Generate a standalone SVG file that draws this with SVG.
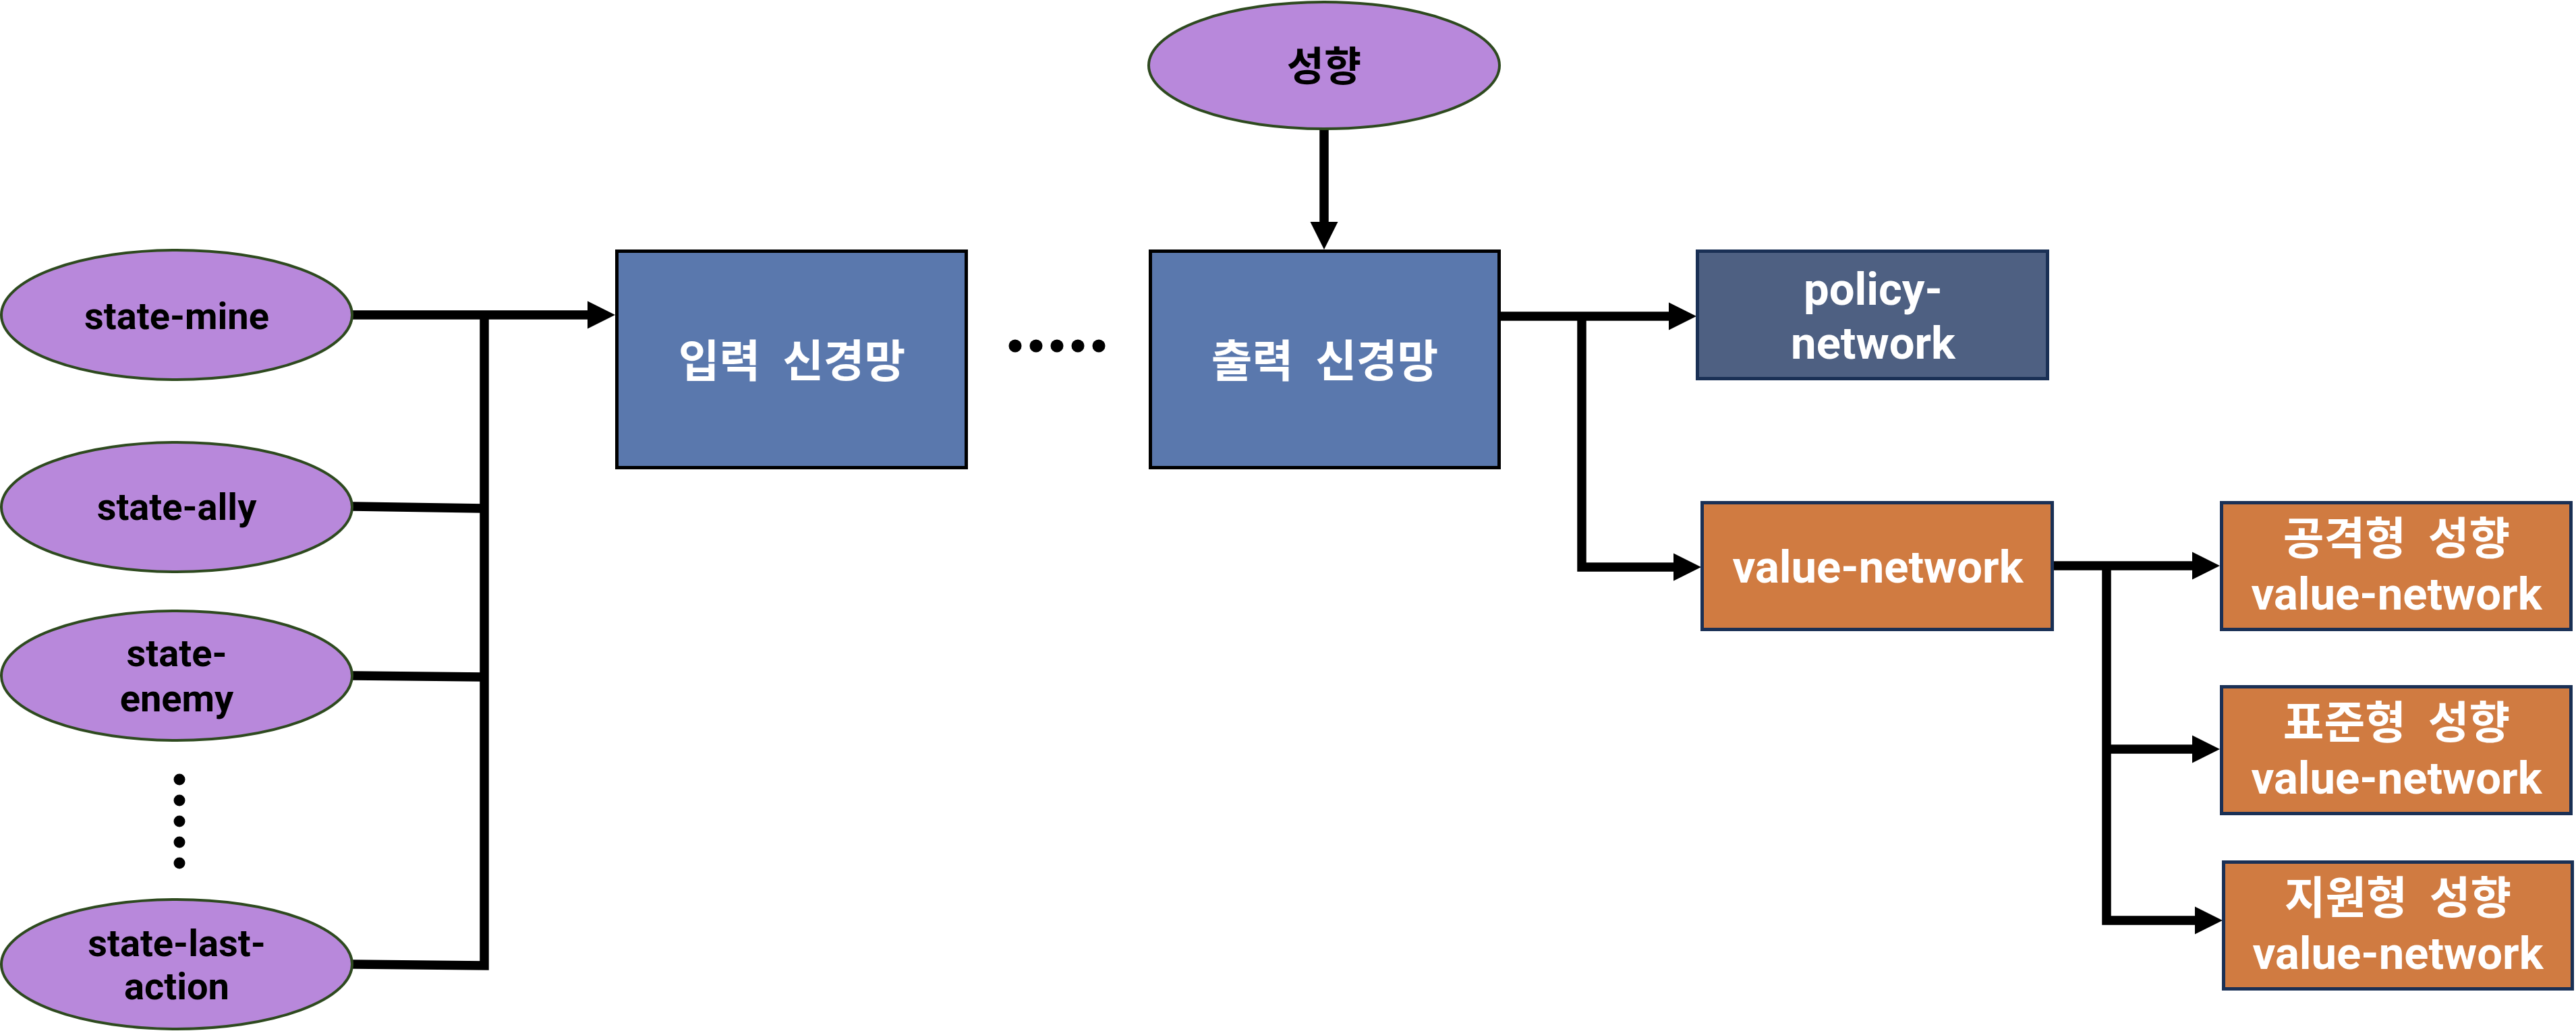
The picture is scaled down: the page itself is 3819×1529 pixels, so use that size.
<svg xmlns="http://www.w3.org/2000/svg" width="3819" height="1529" viewBox="0 0 3819 1529">
<style>
.ell{fill:#B888DB;stroke:#2E4A1F;stroke-width:4}
.blue{fill:#5A78AD;stroke:#000;stroke-width:5}
.pol{fill:#4E6082;stroke:#1A3055;stroke-width:5}
.org{fill:#D07B41;stroke:#1A3055;stroke-width:5}
.t{font-weight:bold;text-anchor:middle}
.lb{font-family:Roboto,"Liberation Sans",sans-serif;font-size:56px;fill:#000}
.kl{font-family:"Noto Sans CJK KR",sans-serif;font-size:60px;fill:#000}
.ko{font-family:"Noto Sans CJK KR",sans-serif;font-size:66px;fill:#fff;word-spacing:18px}
.en{font-family:Roboto,"Liberation Sans",sans-serif;font-size:67px;fill:#fff}
.con{fill:none;stroke:#000;stroke-width:13.5;stroke-linejoin:miter;stroke-linecap:butt}
.dot{fill:#000}
</style>
<defs>
<marker id="ah" markerUnits="userSpaceOnUse" markerWidth="44" markerHeight="44" viewBox="0 -22 44 44" refX="1" refY="0" orient="auto" overflow="visible">
<path d="M0,-20.5 L41,0 L0,20.5 Z" fill="#000"/>
</marker>
</defs>
<rect width="3819" height="1529" fill="#fff"/>
<g id="connectors">
<path class="con" d="M523,467 L872,467" marker-end="url(#ah)"/>
<path class="con" d="M523,751 L718,754"/>
<path class="con" d="M523,1002 L718,1004"/>
<path class="con" d="M523,1430 L718,1432 L718,467"/>
<path class="con" d="M1963,191 L1963,330" marker-end="url(#ah)"/>
<path class="con" d="M2225,469 L2475,469" marker-end="url(#ah)"/>
<path class="con" d="M2345,469 L2345,841 L2482,841" marker-end="url(#ah)"/>
<path class="con" d="M3045,839 L3251,839" marker-end="url(#ah)"/>
<path class="con" d="M3123,839 L3123,1365 L3255,1365" marker-end="url(#ah)"/>
<path class="con" d="M3123,1111 L3251,1111" marker-end="url(#ah)"/>
</g>
<g id="state-mine">
<ellipse class="ell" cx="262" cy="467" rx="260" ry="96"/>
<text class="t lb" x="262" y="488">state-mine</text>
</g>
<g id="state-ally">
<ellipse class="ell" cx="262" cy="752" rx="260" ry="96"/>
<text class="t lb" x="262" y="771">state-ally</text>
</g>
<g id="state-enemy">
<ellipse class="ell" cx="262" cy="1002" rx="260" ry="96"/>
<text class="t lb" x="262" y="988">state-</text>
<text class="t lb" x="262" y="1055">enemy</text>
</g>
<g id="ellipsis-vertical">
<circle class="dot" cx="266" cy="1156" r="8.5"/>
<circle class="dot" cx="266" cy="1187" r="8.5"/>
<circle class="dot" cx="266" cy="1218" r="8.5"/>
<circle class="dot" cx="266" cy="1249" r="8.5"/>
<circle class="dot" cx="266" cy="1280" r="8.5"/>
</g>
<g id="state-last-action">
<ellipse class="ell" cx="262" cy="1430" rx="260" ry="96"/>
<text class="t lb" x="262" y="1418">state-last-</text>
<text class="t lb" x="262" y="1482">action</text>
</g>
<g id="tendency">
<ellipse class="ell" cx="1963" cy="97" rx="260" ry="94"/>
<text class="t kl" x="1963" y="120">성향</text>
</g>
<g id="input-net">
<rect class="blue" x="914.5" y="372.5" width="518" height="321"/>
<text class="t ko" x="1174" y="559">입력 신경망</text>
</g>
<g id="ellipsis-horizontal">
<circle class="dot" cx="1505" cy="513" r="9.5"/>
<circle class="dot" cx="1536" cy="513" r="9.5"/>
<circle class="dot" cx="1567" cy="513" r="9.5"/>
<circle class="dot" cx="1598" cy="513" r="9.5"/>
<circle class="dot" cx="1629" cy="513" r="9.5"/>
</g>
<g id="output-net">
<rect class="blue" x="1705.5" y="372.5" width="517" height="321"/>
<text class="t ko" x="1964" y="559">출력 신경망</text>
</g>
<g id="policy-network">
<rect class="pol" x="2516.5" y="372.5" width="519" height="189"/>
<text class="t en" x="2777" y="452">policy-</text>
<text class="t en" x="2777" y="532">network</text>
</g>
<g id="value-network">
<rect class="org" x="2523.5" y="745.5" width="519" height="188"/>
<text class="t en" x="2784" y="864">value-network</text>
</g>
<g id="attack-value">
<rect class="org" x="3293.5" y="745.5" width="518" height="188"/>
<text class="t ko" x="3553" y="822">공격형 성향</text>
<text class="t en" x="3553" y="904">value-network</text>
</g>
<g id="standard-value">
<rect class="org" x="3293.5" y="1018.5" width="518" height="188"/>
<text class="t ko" x="3553" y="1095">표준형 성향</text>
<text class="t en" x="3553" y="1177">value-network</text>
</g>
<g id="support-value">
<rect class="org" x="3296.5" y="1278.5" width="517" height="188"/>
<text class="t ko" x="3555" y="1355">지원형 성향</text>
<text class="t en" x="3555" y="1437">value-network</text>
</g>
</svg>
